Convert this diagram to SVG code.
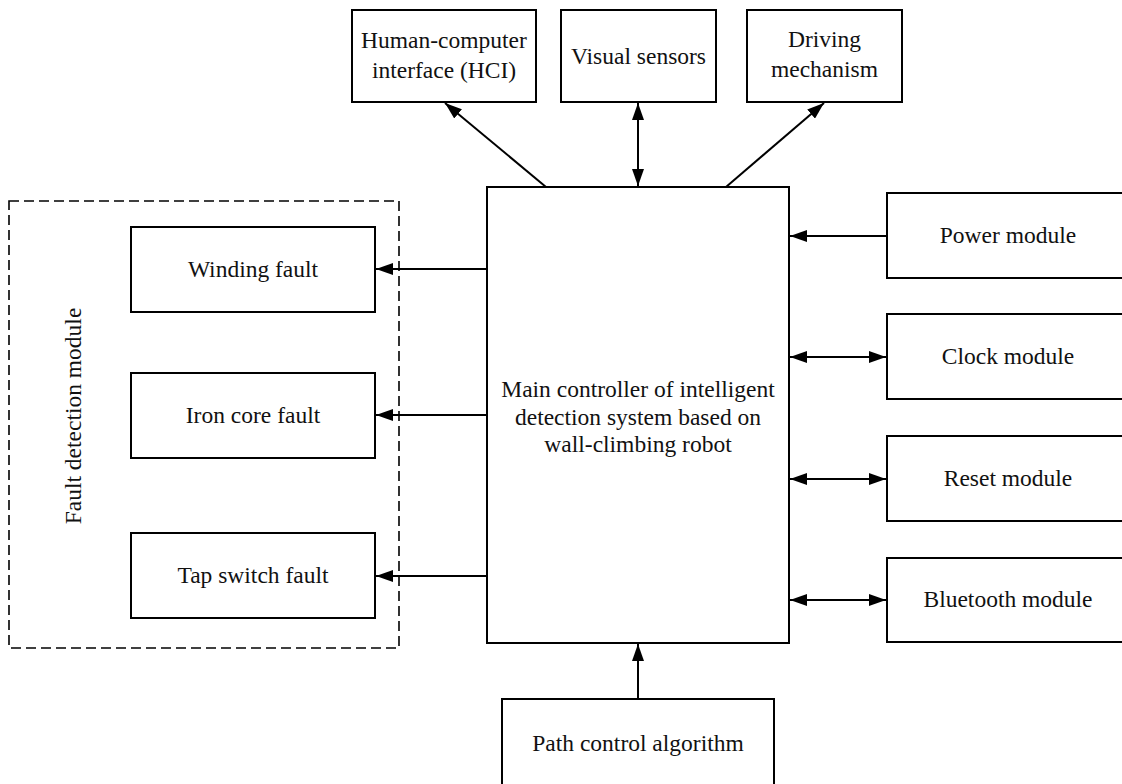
<svg xmlns="http://www.w3.org/2000/svg" width="1122" height="784" viewBox="0 0 1122 784">
<style>
.box{fill:#fff;stroke:#000;stroke-width:2}
.t{font-family:'Liberation Serif','Times New Roman',serif;font-size:23.5px;fill:#111;text-anchor:middle}
.c{stroke:#000;stroke-width:2;fill:none}
.dash{fill:none;stroke:#000;stroke-width:1.6;stroke-dasharray:10 5}
</style>
<defs>
<marker id="ah" viewBox="0 0 17 12" refX="17" refY="6" markerWidth="17" markerHeight="12" markerUnits="userSpaceOnUse" orient="auto-start-reverse">
<path d="M0,0 L17,6 L0,12 z" fill="#000"/>
</marker>
</defs>
<rect width="1122" height="784" fill="#fff"/>
<g id="fault-group">
<rect class="dash" x="9" y="201" width="390" height="447"/>
<text class="t" transform="translate(81,416) rotate(-90)">Fault detection module</text>
</g>
<g id="hci"><rect class="box" x="352" y="10" width="184" height="92"/><text class="t" x="444" y="48">Human-computer</text><text class="t" x="444" y="78">interface (HCI)</text></g>
<g id="visual"><rect class="box" x="561" y="10" width="155" height="92"/><text class="t" x="638.5" y="64">Visual sensors</text></g>
<g id="driving"><rect class="box" x="747" y="10" width="155" height="92"/><text class="t" x="824.5" y="47">Driving</text><text class="t" x="824.5" y="77">mechanism</text></g>
<g id="main"><rect class="box" x="487" y="187" width="302" height="456"/><text class="t" x="638" y="397">Main controller of intelligent</text><text class="t" x="638" y="424.5">detection system based on</text><text class="t" x="638" y="452">wall-climbing robot</text></g>
<g id="winding"><rect class="box" x="131" y="227" width="244" height="85"/><text class="t" x="253" y="277">Winding fault</text></g>
<g id="iron"><rect class="box" x="131" y="373" width="244" height="85"/><text class="t" x="253" y="423">Iron core fault</text></g>
<g id="tap"><rect class="box" x="131" y="533" width="244" height="85"/><text class="t" x="253" y="583">Tap switch fault</text></g>
<g id="power"><rect class="box" x="887" y="193" width="245" height="85"/><text class="t" x="1008" y="243">Power module</text></g>
<g id="clock"><rect class="box" x="887" y="314" width="245" height="85"/><text class="t" x="1008" y="364">Clock module</text></g>
<g id="reset"><rect class="box" x="887" y="436" width="245" height="85"/><text class="t" x="1008" y="486">Reset module</text></g>
<g id="bluetooth"><rect class="box" x="887" y="558" width="245" height="84"/><text class="t" x="1008" y="607">Bluetooth module</text></g>
<g id="path"><rect class="box" x="502" y="699" width="272" height="95"/><text class="t" x="638" y="751">Path control algorithm</text></g>
<g id="connectors">
<line class="c" x1="546" y1="187" x2="445" y2="103" marker-end="url(#ah)"/>
<line class="c" x1="638" y1="186" x2="638" y2="103" marker-start="url(#ah)" marker-end="url(#ah)"/>
<line class="c" x1="726" y1="187" x2="824" y2="103" marker-end="url(#ah)"/>
<line class="c" x1="487" y1="269" x2="376" y2="269" marker-end="url(#ah)"/>
<line class="c" x1="487" y1="415" x2="376" y2="415" marker-end="url(#ah)"/>
<line class="c" x1="487" y1="576" x2="376" y2="576" marker-end="url(#ah)"/>
<line class="c" x1="887" y1="236" x2="790" y2="236" marker-end="url(#ah)"/>
<line class="c" x1="790" y1="357" x2="886" y2="357" marker-start="url(#ah)" marker-end="url(#ah)"/>
<line class="c" x1="790" y1="479" x2="886" y2="479" marker-start="url(#ah)" marker-end="url(#ah)"/>
<line class="c" x1="790" y1="600" x2="886" y2="600" marker-start="url(#ah)" marker-end="url(#ah)"/>
<line class="c" x1="638" y1="699" x2="638" y2="644" marker-end="url(#ah)"/>
</g>
</svg>
